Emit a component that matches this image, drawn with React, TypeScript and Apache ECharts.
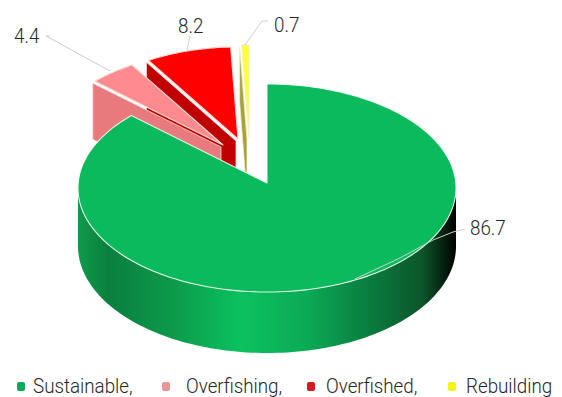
import React, { useEffect, useRef } from "react";
import * as echarts from "echarts";

// Share of stocks per status, in percent
const categories = ["Sustainable", "Overfishing", "Overfished", "Rebuilding"];
const shares = [86.7, 4.4, 8.2, 0.7];
const legendLabels = ["Sustainable,", "Overfishing,", "Overfished,", "Rebuilding"];

const FONT = '300 21px Roboto, "Noto Sans", sans-serif';
const TEXT_SQUEEZE = 0.895;

// Disc projection: centre, radii, perspective strength and wall height
const CX = 267;
const CY = 183;
const RX = 188.8;
const RY = 103.8;
const PERSPECTIVE = 0.048;
const WALL = 58;

// Per-slice styling: displacement of the apex, shrink factor and fills
const sliceStyles = [
  { dx: 0, dy: 0, k: 1, top: "#0bba5c", wall: "", edge: "rgba(255,255,255,0.85)" },
  { dx: -44, dy: -38, k: 0.945, top: "#ff8a8f", wall: "#e87a7e", edge: "#f6dcd6" },
  { dx: -29, dy: -44, k: 0.93, top: "#ff0000", wall: "#c00000", edge: "#f8d6cf" },
  { dx: -18, dy: -46, k: 0.93, top: "#ffff33", wall: "#a9a040", edge: "#f3f3c0" },
];

// Cut faces sit slightly apart from the top faces
const WALL_SHIFT_X = -2;
const WALL_SHIFT_Y = 2;

const wallGradient = {
  type: "linear",
  x: 0,
  y: 0,
  x2: 1,
  y2: 0,
  colorStops: [
    { offset: 0, color: "#109a4c" },
    { offset: 0.08, color: "#0a7f3e" },
    { offset: 0.25, color: "#0c9a4b" },
    { offset: 0.43, color: "#0bc15f" },
    { offset: 0.6, color: "#0cab57" },
    { offset: 0.78, color: "#0a7a3c" },
    { offset: 0.91, color: "#0c562b" },
    { offset: 0.98, color: "#03140a" },
    { offset: 1, color: "#000000" },
  ],
};

// Leader lines and label anchors, one entry per status
const leaders = [
  { line: [[465, 229], [453, 232], [433, 240], [400, 258], [355, 279]], x: 470, y: 228 },
  { line: [[50, 36], [46, 36], [110, 71]], x: 14, y: 36 },
  { line: [[190, 36], [187, 50]], x: 178, y: 26 },
  { line: [[268, 21], [262, 21], [245, 45]], x: 274, y: 25 },
];

const legendMarkerX = [17, 162, 307, 448];
const legendTextX = [33, 186, 326, 466];
const legendColors = ["#0fa958", "#f0939a", "#d81820", "#f4f416"];

const total = shares.reduce((a, b) => a + b, 0);

// Clockwise angle from twelve o'clock to a point on the disc rim, in screen space
function project(deg: number, radius: number, lift: number, s: (typeof sliceStyles)[number]) {
  const a = (deg * Math.PI) / 180;
  const u = Math.sin(a) * radius;
  const v = -Math.cos(a) * radius;
  const w = 1 / (1 - PERSPECTIVE * v);
  const x = CX + s.dx + RX * u * w * s.k;
  const y = CY + s.dy + RY * v * w * s.k + lift * (WALL + 3 * v);
  return [x, y];
}

function arc(from: number, to: number, lift: number, s: (typeof sliceStyles)[number]) {
  const steps = Math.max(2, Math.ceil(Math.abs(to - from) / 1.5));
  const pts: number[][] = [];
  for (let i = 0; i <= steps; i++) pts.push(project(from + ((to - from) * i) / steps, 1, lift, s));
  return pts;
}

function renderSlice(params: any, api: any) {
  const idx = api.value(1) as number;
  const s = sliceStyles[idx];
  let before = 0;
  for (let i = 0; i < idx; i++) before += shares[i];
  const start = (before / total) * 360;
  const end = start + ((api.value(0) as number) / total) * 360;
  const children: any[] = [];

  if (idx === 0) {
    // Rim of the disc, visible only on the front half
    const rim = arc(93, 267, 0, s).concat(arc(267, 93, 1, s));
    children.push({
      type: "polygon",
      shape: { points: rim },
      style: { fill: wallGradient, stroke: "none" },
    });
  } else {
    // Radial cut face on the leading edge of a pulled-out slice
    const apexTop = project(start, 0, 0, s);
    const apexLow = project(start, 0, 1, s);
    const outerTop = project(start, 1, 0, s);
    const outerLow = project(start, 1, 1, s);
    children.push({
      type: "polygon",
      x: WALL_SHIFT_X,
      y: WALL_SHIFT_Y,
      shape: { points: [outerTop, apexTop, apexLow, outerLow] },
      style: { fill: s.wall, stroke: s.edge, lineWidth: 0.8 },
    });
  }

  const top = [project(start, 0, 0, s)].concat(arc(start, end, 0, s));
  children.push({
    type: "polygon",
    shape: { points: top },
    style: { fill: s.top, stroke: s.edge, lineWidth: 1.1, lineJoin: "round" },
  });
  return { type: "group", children };
}

function renderLabel(params: any, api: any) {
  const idx = api.value(1) as number;
  const l = leaders[idx];
  return {
    type: "group",
    children: [
      {
        type: "polyline",
        shape: { points: l.line },
        style: { stroke: "#c9d2cb", lineWidth: 1, fill: "none" },
      },
      {
        type: "text",
        x: l.x,
        y: l.y,
        scaleX: TEXT_SQUEEZE,
        style: {
          text: String(api.value(0)),
          x: 0,
          y: 0,
          font: FONT,
          fill: "#262626",
          align: "left",
          verticalAlign: "middle",
        },
      },
    ],
  };
}

export default function App() {
  const ref = useRef<HTMLDivElement>(null);

  useEffect(() => {
    if (!ref.current) return;
    const chart = echarts.init(ref.current, undefined, { renderer: "svg" });
    // Back slices first so that the large disc overlaps them
    const drawOrder = [3, 2, 1, 0];
    const rows = drawOrder.map((i) => ({ name: categories[i], value: [shares[i], i] }));
    chart.setOption({
      animation: false,
      backgroundColor: "#ffffff",
      series: [
        {
          type: "custom",
          name: "Stock status",
          coordinateSystem: "none",
          renderItem: renderSlice,
          data: rows,
          silent: true,
          z: 2,
        },
        {
          type: "custom",
          name: "Values",
          coordinateSystem: "none",
          renderItem: renderLabel,
          data: rows,
          silent: true,
          z: 3,
        },
      ],
      graphic: legendLabels.flatMap((label, i) => [
        {
          type: "rect",
          x: legendMarkerX[i],
          y: 382,
          shape: { width: 8, height: 9, r: 2 },
          style: { fill: legendColors[i] },
        },
        {
          type: "text",
          x: legendTextX[i],
          y: 386,
          scaleX: TEXT_SQUEEZE,
          style: {
            text: label,
            font: FONT,
            fill: "#262626",
            align: "left",
            verticalAlign: "middle",
          },
        },
      ]),
    });
    return () => chart.dispose();
  }, []);

  return <div ref={ref} style={{ position: "fixed", left: 0, top: 0, width: 562, height: 397 }} />;
}
